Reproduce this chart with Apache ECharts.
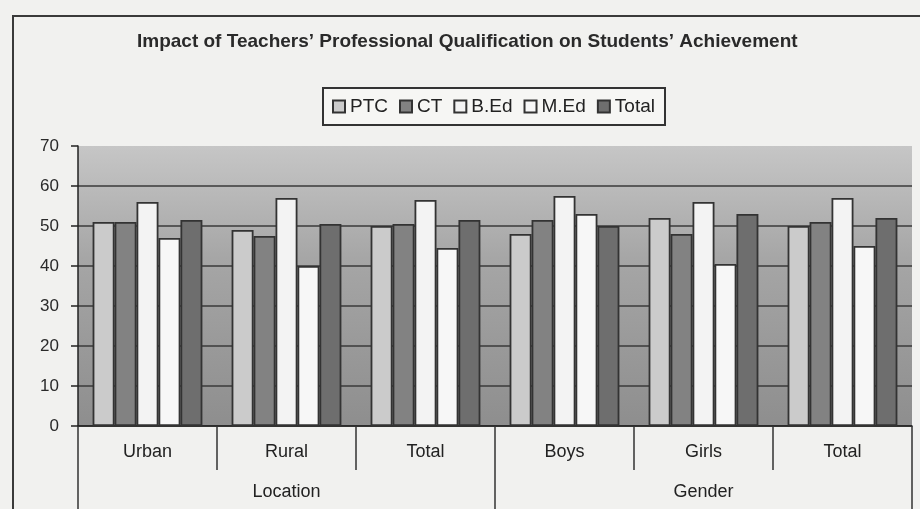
<!DOCTYPE html>
<html>
<head>
<meta charset="utf-8">
<script src="https://cdn.jsdelivr.net/npm/echarts@6/dist/echarts.min.js"></script>
<style>
  html, body { margin: 0; padding: 0; background: #f1f1ef; }
  #frame { position: absolute; left: 12px; top: 15px; width: 1000px; height: 600px; border: 2px solid #3a3a3a; }
  #main { position: absolute; left: 0; top: 0; width: 920px; height: 509px; }
</style>
</head>
<body>
<div id="frame"></div>
<div id="main"></div>
<script>
var groups = ['Urban', 'Rural', 'Total', 'Boys', 'Girls', 'Total'];
var parents = ['Location', 'Gender'];
var yTicks = [0, 10, 20, 30, 40, 50, 60, 70];

var ptc  = [51, 49, 50, 48, 52, 50];
var ct   = [51, 47.5, 50.5, 51.5, 48, 51];
var bed  = [56, 57, 56.5, 57.5, 56, 57];
var med  = [47, 40, 44.5, 53, 40.5, 45];
var tot  = [51.5, 50.5, 51.5, 50, 53, 52];

var names = ['PTC', 'CT', 'B.Ed', 'M.Ed', 'Total'];
var values = [ptc, ct, bed, med, tot];
var colors = ['#cbcbcb', '#828282', '#f3f3f3', '#f7f7f7', '#6e6e6e'];

var myChart = echarts.init(document.getElementById('main'));

var series = names.map(function (n, i) {
    return {
        name: n,
        type: 'bar',
        barGap: '0%',
        barCategoryGap: '21%',
        data: values[i],
        itemStyle: { color: colors[i], borderColor: '#333', borderWidth: 1.8 }
    };
});

// no gridline drawn at the top (70)
var gridColors = yTicks.map(function (t, i) {
    return i === yTicks.length - 1 ? 'rgba(0,0,0,0)' : '#3a3a3a';
});

option = {
    backgroundColor: 'transparent',
    textStyle: { fontFamily: 'Liberation Sans, Arial, sans-serif' },
    title: {
        text: 'Impact of Teachers\u2019 Professional Qualification on Students\u2019 Achievement',
        left: 137,
        top: 32,
        padding: 0,
        textStyle: { fontSize: 19, fontWeight: 'bold', color: '#2a2a2a' }
    },
    legend: {
        data: names,
        left: 323,
        top: 88,
        padding: [9, 10, 9, 9],
        itemGap: 11,
        itemWidth: 12,
        itemHeight: 12,
        icon: 'rect',
        borderColor: '#333',
        borderWidth: 2,
        backgroundColor: '#f6f6f4',
        textStyle: { fontSize: 19, color: '#222' }
    },
    grid: {
        left: 78,
        right: 8,
        top: 146,
        bottom: 83,
        show: true,
        borderWidth: 0,
        backgroundColor: new echarts.graphic.LinearGradient(0, 0, 0, 1, [
            { offset: 0, color: '#c6c6c6' },
            { offset: 0.4, color: '#a6a6a6' },
            { offset: 1, color: '#8e8e8e' }
        ])
    },
    xAxis: [
        {
            type: 'category',
            data: groups,
            axisLine: { lineStyle: { color: '#222', width: 1.5 } },
            axisTick: { show: true, interval: 0, length: 44, lineStyle: { color: '#333', width: 1.5 } },
            axisLabel: { fontSize: 18, color: '#222', margin: 17 }
        },
        {
            type: 'category',
            position: 'bottom',
            offset: 42,
            data: parents,
            axisLine: { show: false },
            axisTick: { show: true, interval: 0, length: 45, lineStyle: { color: '#333', width: 1.5 } },
            axisLabel: { fontSize: 18, color: '#222', margin: 15 }
        }
    ],
    yAxis: {
        type: 'value',
        min: yTicks[0],
        max: yTicks[yTicks.length - 1],
        interval: 10,
        axisLine: { show: true, lineStyle: { color: '#222', width: 1.5 } },
        axisTick: { show: true, length: 7, lineStyle: { color: '#222', width: 1.5 } },
        axisLabel: { fontSize: 17, color: '#2a2a2a', margin: 19 },
        splitLine: { lineStyle: { color: gridColors, width: 1.5 } }
    },
    color: colors,
    series: series
};

myChart.setOption(option);
</script>
</body>
</html>
